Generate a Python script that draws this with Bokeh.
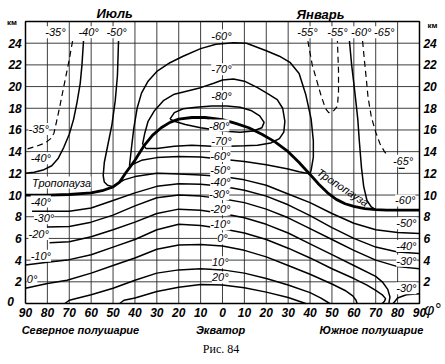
from bokeh.plotting import figure
from bokeh.models import Range1d
from bokeh.core.properties import value
from bokeh.embed import file_html
from bokeh.resources import INLINE

# ---------------- data (latitude: north positive, south negative; height in km) ----------------
lat_ticks = [90, 80, 70, 60, 50, 40, 30, 20, 10, 0, -10, -20, -30, -40, -50, -60, -70, -80, -90]
km_ticks_left = [0, 2, 4, 6, 8, 10, 12, 14, 16, 18, 20, 22, 24]
km_ticks_right = [2, 4, 6, 8, 10, 12, 14, 16, 18, 20, 22, 24]
km_top = 26

trop_lat = [90, 80, 70, 60, 55, 50, 47, 44, 40, 36, 32, 28, 24, 20, 14, 8, 0, -6, -12, -18, -24, -30,
            -35, -40, -44, -48, -52, -56, -60, -65, -70, -75, -80, -90]
trop_km = [10.0, 10.0, 10.05, 10.2, 10.4, 10.75, 11.2, 12.1, 13.2, 14.5, 15.5, 16.2, 16.7, 17.0, 17.15,
           17.15, 16.95, 16.6, 16.2, 15.6, 14.9, 14.0, 13.0, 11.9, 11.0, 10.2, 9.6, 9.2, 8.95, 8.75,
           8.65, 8.6, 8.6, 8.6]

t60_lat = [42.5, 41.5, 40.5, 39, 37, 34, 30, 24, 18, 10, 3, -5, -11, -20, -26, -31, -35, -38, -40.5,
           -41.5, -41.5, -40.5, -40, -35, -30, -20, -10, 0, 10, 20, 30, 37, 42.5]
t60_km = [12.7, 14.5, 16.2, 18.0, 19.4, 20.5, 21.4, 22.2, 22.8, 23.5, 23.9, 24.05, 24.0, 23.3, 22.8,
          22.2, 21.2, 19.3, 17.0, 15.0, 13.5, 12.3, 11.95, 12.15, 12.4, 12.8, 13.1, 13.3, 13.5, 13.55,
          13.45, 13.2, 12.7]

t70_lat = [36.5, 35.5, 34, 31, 27, 22, 16, 10, 4, 0, -5, -10, -16, -21, -25, -27.5, -28.5, -28, -26,
           -22, -16, -10, -3, 5, 14, 22, 30, 35, 36.5]
t70_km = [14.7, 15.7, 16.8, 17.8, 18.7, 19.3, 19.6, 19.9, 20.3, 20.6, 20.7, 20.5, 19.9, 19.3, 18.8,
          18.0, 16.8, 15.8, 15.2, 14.8, 14.6, 14.55, 14.5, 14.5, 14.6, 14.5, 14.3, 14.3, 14.7]

t80_lat = [24, 22, 18, 12, 5, -2, -8, -13, -17, -19, -18, -14, -8, -3, 3, 10, 17, 22, 24]
t80_km = [17.0, 17.6, 17.95, 18.1, 18.2, 18.2, 18.1, 17.8, 17.3, 16.7, 16.2, 15.9, 15.8, 15.85, 16.0,
          16.2, 16.5, 16.8, 17.0]

jul50_lat = [47.5, 48, 49, 50.5, 52.5, 54, 54.5, 54, 52.5, 50.5]
jul50_km = [24.2, 21, 18.7, 16.5, 14.5, 13, 11.8, 11.2, 10.9, 10.8]
jul40_lat = [63.5, 64.2, 65, 66.5, 68, 70, 72.5, 75, 78, 82, 86, 90]
jul40_km = [24.2, 22, 20.3, 18.5, 17.0, 15.6, 14.4, 13.4, 12.7, 12.3, 12.1, 12.0]
jul35_lat = [68.5, 70, 71.5, 73, 74.5, 76, 77, 78.5, 81, 85, 90]
jul35_km = [24.2, 22.5, 21.0, 19.5, 18.0, 16.6, 15.7, 15.2, 14.8, 14.5, 14.2]

jan55_lat = [-39, -41, -43, -45, -47, -48.5, -50.5, -52.5, -53, -53, -52.5]
jan55_km = [24.2, 22.0, 20.6, 19.2, 18.0, 17.6, 17.7, 18.2, 19.5, 21.5, 24.2]
jan60_lat = [-58, -59, -60, -61, -61.8, -62.5, -63.5, -64.5, -66, -68, -70]
jan60_km = [24.2, 22, 20.3, 18.5, 17.0, 15.0, 12.5, 10.8, 9.5, 8.9, 8.65]
jan65_lat = [-64, -64.8, -65.7, -66.5, -68, -70, -72, -74, -75.5]
jan65_km = [24.2, 22.5, 20.7, 19, 17.2, 15.8, 14.7, 14.0, 13.6]
jan65u_lat = [-80.5, -85]
jan65u_km = [12.45, 12.45]

m50_lat = [50, 45, 40, 30, 20, 10, 0, -10, -20, -30, -40, -50, -60, -70, -80, -90]
m50_km = [10.8, 11.4, 11.7, 12.0, 11.95, 11.85, 11.7, 11.4, 10.9, 10.1, 9.3, 8.3, 7.4, 6.8, 6.55, 6.45]
m40_lat = [87, 80, 70, 60, 50, 40, 30, 20, 10, 0, -10, -20, -30, -40, -50, -60, -70, -80, -90]
m40_km = [8.5, 8.5, 8.5, 8.8, 9.5, 10.2, 10.8, 11.05, 11.0, 10.8, 10.45, 9.9, 9.1, 8.1, 7.0, 6.0, 5.2,
          4.75, 4.6]
m30_lat = [80, 70, 60, 50, 40, 30, 20, 10, 0, -10, -20, -30, -40, -50, -60, -70, -80, -90]
m30_km = [7.05, 7.1, 7.5, 8.15, 9.0, 9.75, 10.0, 9.9, 9.65, 9.3, 8.7, 7.9, 6.9, 5.9, 4.9, 4.0, 3.4, 3.2]
m20_lat = [79, 70, 60, 50, 40, 30, 20, 10, 0, -10, -20, -30, -40, -50, -60, -70, -73, -75.5, -76.5, -76]
m20_km = [5.6, 5.7, 6.15, 6.8, 7.5, 8.3, 8.7, 8.6, 8.3, 7.9, 7.3, 6.5, 5.5, 4.5, 3.5, 2.5, 2.0, 1.3, 0.6, 0]
m10_lat = [90, 80, 71, 60, 50, 40, 30, 20, 10, 0, -10, -20, -30, -40, -50, -60, -66, -70, -73, -74.5,
           -74, -73]
m10_km = [3.55, 3.8, 4.0, 4.5, 5.2, 5.9, 6.8, 7.3, 7.2, 6.9, 6.5, 5.9, 5.1, 4.2, 3.2, 2.3, 1.7, 1.2, 0.8,
          0.45, 0.2, 0]
z0_lat = [90, 80, 71, 60, 50, 40, 30, 20, 10, 0, -10, -20, -30, -40, -50, -56, -59.5, -61, -61.5]
z0_km = [1.4, 1.85, 2.15, 2.8, 3.5, 4.2, 5.0, 5.4, 5.45, 5.3, 4.9, 4.3, 3.5, 2.7, 1.8, 1.2, 0.7, 0.3, 0]
p10_lat = [72, 70, 60, 50, 40, 30, 20, 10, 0, -10, -20, -30, -40, -45, -49]
p10_km = [0, 0.3, 0.8, 1.4, 2.15, 2.8, 3.1, 3.2, 3.1, 2.8, 2.3, 1.7, 1.0, 0.5, 0]
p20_lat = [47, 45, 40, 30, 20, 10, 0, -10, -20, -30, -38]
p20_km = [0, 0.3, 0.5, 1.1, 1.5, 1.75, 1.7, 1.45, 1.05, 0.55, 0]
pool30_lat = [-78, -80, -84, -90]
pool30_km = [0, 0.5, 0.8, 0.9]

lab_text = ["-35°", "-40°", "-50°", "-60°", "-55°", "-55°", "-60°", "-65°",
            "-70°", "-80°", "-80°", "-70°", "-60°", "-50°", "-40°", "-30°", "-20°", "-10°", "0°", "10°", "20°",
            "-35°", "-40°", "-40°", "-30°", "-20°", "-10°", "0°",
            "-65°", "-60°", "-50°", "-40°", "-30°", "-30°"]
lab_lat = [76.3, 61.2, 48.4, 0.5, -38.8, -52.5, -63.4, -73.9,
           0.5, 0.5, 1.5, 0.5, 1, 1, 1, 1.5, 1, 1, 0, 1, 1,
           84, 83, 83, 81.5, 84, 83, 87,
           -82.5, -83.5, -84, -84, -84, -84]
lab_km = [25.0, 25.0, 25.0, 24.7, 25.0, 25.0, 25.0, 25.0,
          21.6, 19.1, 16.4, 15.0, 13.6, 12.3, 11.2, 10.1, 8.7, 7.3, 6.0, 3.8, 2.4,
          16.1, 13.4, 9.4, 7.85, 6.4, 4.4, 2.3,
          13.15, 9.5, 7.4, 5.3, 3.95, 1.4]

# ---------------- figure: the frame covers the whole canvas ----------------
p = figure(width=445, height=364, x_range=Range1d(101.42, -101.88), y_range=Range1d(-5.624, 27.936),
           output_backend="svg", toolbar_location=None, min_border=0,
           background_fill_color="white", border_fill_color="white", outline_line_color=None)
p.axis.visible = False
p.grid.visible = False

FONT = value("Liberation Sans")

# grid and frame
inner_lat = [t for t in lat_ticks if abs(t) < 90]
inner_km = [k for k in km_ticks_left if 0 < k < km_top]
p.segment(x0=inner_lat, y0=[0] * len(inner_lat), x1=inner_lat, y1=[km_top] * len(inner_lat),
          line_color="#2a2a2a", line_width=1, line_alpha=0.9)
p.segment(x0=[90] * len(inner_km), y0=inner_km, x1=[-90] * len(inner_km), y1=inner_km,
          line_color="#2a2a2a", line_width=1, line_alpha=0.9)
p.line([90, -90, -90, 90, 90], [0, 0, km_top, km_top, 0], line_color="black", line_width=1.5)

# tick labels
p.text(x=lat_ticks, y=[-0.85] * len(lat_ticks), text=[str(abs(t)) for t in lat_ticks], text_font=FONT,
       text_font_style="bold italic", text_font_size="12px", text_align="center", text_baseline="middle")
p.text(x=[91.7] * (len(km_ticks_left) - 1), y=km_ticks_left[1:], text=[str(k) for k in km_ticks_left[1:]],
       text_font=FONT, text_font_style="bold italic", text_font_size="12px", text_align="right",
       text_baseline="middle")
p.text(x=[95.3], y=[0.15], text=[str(km_ticks_left[0])], text_font=FONT, text_font_style="bold italic",
       text_font_size="12px", text_align="right", text_baseline="middle")
p.text(x=[-91.8] * len(km_ticks_right), y=km_ticks_right, text=[str(k) for k in km_ticks_right],
       text_font=FONT, text_font_style="bold italic", text_font_size="12px", text_align="left",
       text_baseline="middle")

# isotherms
lw = 1.5
solid = [(m50_lat, m50_km), (m40_lat, m40_km), (m30_lat, m30_km), (m20_lat, m20_km), (m10_lat, m10_km),
         (z0_lat, z0_km), (p10_lat, p10_km), (p20_lat, p20_km), (pool30_lat, pool30_km),
         (t60_lat, t60_km), (t70_lat, t70_km), (t80_lat, t80_km),
         (jul50_lat, jul50_km), (jul40_lat, jul40_km), (jan60_lat, jan60_km)]
for xs, ys in solid:
    p.line(xs, ys, line_color="black", line_width=lw)
for xs, ys in [(jul35_lat, jul35_km), (jan55_lat, jan55_km), (jan65_lat, jan65_km), (jan65u_lat, jan65u_km)]:
    p.line(xs, ys, line_color="black", line_width=1.2, line_dash="6 4")
p.line(trop_lat, trop_km, line_color="black", line_width=2.8)

# isotherm labels
p.text(x=lab_lat, y=lab_km, text=lab_text, text_font=FONT, text_font_style="italic",
       text_font_size="11px", text_align="center", text_baseline="middle", text_color="black",
       background_fill_color="white", padding=0)

# tropopause labels
p.text(x=[73.5], y=[11.15], text=["Тропопауза"], text_font=FONT, text_font_style="italic",
       text_font_size="11px", text_align="center", text_baseline="middle", background_fill_color="white")
p.text(x=[-55.0], y=[10.7], text=["Тропопауза"], text_font=FONT, text_font_style="italic",
       text_font_size="11px", text_align="center", text_baseline="middle", angle=-0.58)

# titles and captions
def txt(x, y, t, size="11px", style="italic", font="Liberation Sans"):
    p.text(x=[x], y=[y], text=[t], text_font=value(font), text_font_style=style, text_font_size=size,
           text_align="center", text_baseline="middle", text_color="black")

txt(49.3, 26.75, "Июль", "13px", "bold italic")
txt(-44.8, 26.65, "Январь", "13px", "bold italic")
txt(96.2, 25.95, "км", "8px", "bold")
txt(-95.9, 25.6, "км", "8px", "bold")
txt(-95.9, -0.55, "φ°", "16px", "italic")
txt(64.9, -2.4, "Северное полушарие", "11px", "bold italic")
txt(0.9, -2.4, "Экватор", "11px", "bold italic")
txt(-68, -2.4, "Южное полушарие", "11px", "bold italic")
txt(0, -4.24, "Рис.  84", "12px", "normal", "Liberation Serif")

open("out.html", "w").write(file_html(p, INLINE))
